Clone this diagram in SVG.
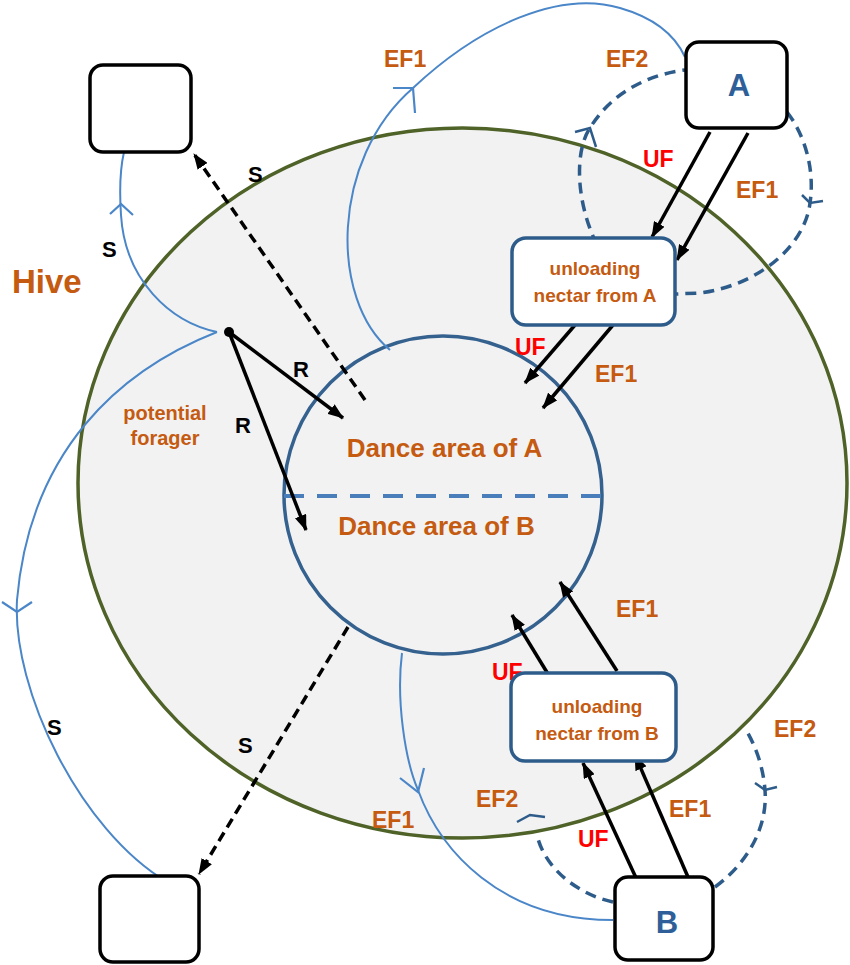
<svg xmlns="http://www.w3.org/2000/svg" width="850" height="965" viewBox="0 0 850 965">
<defs>
<style>
.t{font-family:"Liberation Sans",Arial,sans-serif;font-weight:bold}
.or{fill:#c55a11}
.rd{fill:#ff0000}
.bk{fill:#000}
.thin{fill:none;stroke:#4a86c8;stroke-width:2}
.dl{fill:none;stroke:#2e5c8a;stroke-width:3.5;stroke-dasharray:11 7}
.chev{fill:none;stroke:#4a86c8;stroke-width:2.2}
.chevd{fill:none;stroke:#2e5c8a;stroke-width:2.5}
.arr{fill:none;stroke:#000;stroke-width:3.5;marker-end:url(#ah)}
.darr{fill:none;stroke:#000;stroke-width:3.5;stroke-dasharray:10 6;marker-end:url(#ah)}
.bx{fill:#fff;stroke:#000;stroke-width:3.5}
.ub{fill:#fff;stroke:#2e5c8a;stroke-width:3.5}
.ef{font-size:23px}
.sr{font-size:22px}
</style>
<marker id="ah" markerUnits="userSpaceOnUse" markerWidth="16" markerHeight="12" viewBox="0 0 16 12" refX="15" refY="6" orient="auto">
<path d="M0,0 L16,6 L0,12 Z" fill="#000"/>
</marker>
</defs>

<g id="hive">
<ellipse cx="462.5" cy="483" rx="384.5" ry="355" fill="#f2f2f2" stroke="#4f6228" stroke-width="3.5"/>
<text class="t or" x="12" y="293" font-size="33">Hive</text>
</g>

<g id="dance-area">
<circle cx="443" cy="495" r="159" fill="#f2f2f2" stroke="#35618f" stroke-width="3.5"/>
<line x1="284" y1="496" x2="602" y2="496" stroke="#4a7ebb" stroke-width="4" stroke-dasharray="20 13"/>
<text class="t or" x="444.5" y="457" font-size="26" text-anchor="middle">Dance area of A</text>
<text class="t or" x="436.5" y="535" font-size="26" text-anchor="middle">Dance area of B</text>
</g>

<g id="potential-forager">
<circle cx="229" cy="332" r="5" fill="#000"/>
<text class="t or" font-size="20" text-anchor="middle"><tspan x="165" y="420">potential</tspan><tspan x="165" y="445">forager</tspan></text>
</g>

<g id="labels">
<text class="t bk sr" x="248" y="182">S</text>
<text class="t bk sr" x="102" y="257">S</text>
<text class="t bk sr" x="47" y="735">S</text>
<text class="t bk sr" x="238" y="753">S</text>
<text class="t bk sr" x="293" y="377">R</text>
<text class="t bk sr" x="235" y="433">R</text>
<text class="t or ef" x="384" y="67">EF1</text>
<text class="t or ef" x="606" y="67">EF2</text>
<text class="t rd ef" x="643" y="167">UF</text>
<text class="t or ef" x="736" y="198">EF1</text>
<text class="t rd ef" x="515" y="355">UF</text>
<text class="t or ef" x="595" y="382">EF1</text>
<text class="t or ef" x="616" y="617">EF1</text>
<text class="t rd ef" x="492" y="680">UF</text>
<text class="t or ef" x="774" y="737">EF2</text>
<text class="t or ef" x="476" y="807">EF2</text>
<text class="t or ef" x="669" y="817">EF1</text>
<text class="t or ef" x="372" y="828">EF1</text>
<text class="t rd ef" x="578" y="847">UF</text>
</g>

<g id="connectors">
<path class="thin" d="M217,332 C170,322 125,280 121,215 C119,185 121,165 124,152"/>
<polyline class="chev" points="110,214 121,204 133,215"/>
<path class="thin" d="M217,332 C120,370 30,450 17,600 C12,690 80,830 167,882"/>
<polyline class="chev" points="2,602 17,612 32,602"/>
<path class="thin" d="M390,350 C330,300 330,160 413,88 C480,25 560,-10 620,8 C655,18 675,35 685,57"/>
<polyline class="chev" points="393,88 413,88 415,113"/>
<path class="thin" d="M402,653 C396,700 405,760 418,790 C440,850 500,920 613,920"/>
<polyline class="chev" points="400,778 418,792 424,768"/>

<path class="dl" d="M597,245 C575,200 575,150 590,128 C610,95 645,75 685,70"/>
<polyline class="chevd" points="575,132 590,128 596,147"/>
<path class="dl" d="M787,112 C805,135 815,170 810,203 C805,245 760,285 700,293 L676,294"/>
<polyline class="chevd" points="802,195 810,203 823,201"/>
<path class="dl" d="M613,902 C580,895 545,870 537,835"/>
<polyline class="chevd" points="517,822 530,815 545,817"/>
<path class="dl" d="M715,887 C745,865 768,830 765,790 C763,765 755,745 745,728"/>
<polyline class="chevd" points="755,783 765,790 777,787"/>

<line class="arr" x1="229" y1="332" x2="343" y2="418"/>
<line class="arr" x1="229" y1="332" x2="306" y2="530"/>
<line class="darr" x1="365" y1="400" x2="194" y2="154"/>
<line class="darr" x1="348" y1="627" x2="199" y2="874"/>

<line class="arr" x1="710" y1="132" x2="652" y2="237"/>
<line class="arr" x1="748" y1="133" x2="677" y2="260"/>
<line class="arr" x1="575" y1="325" x2="525" y2="383"/>
<line class="arr" x1="613" y1="325" x2="543" y2="408"/>

<line class="arr" x1="637" y1="880" x2="583" y2="763"/>
<line class="arr" x1="688" y1="877" x2="635" y2="755"/>
<line class="arr" x1="548" y1="674" x2="512" y2="615"/>
<line class="arr" x1="617" y1="671" x2="560" y2="582"/>
</g>

<g id="node-A">
<rect class="bx" x="686" y="42" width="101" height="86" rx="13"/>
<text class="t" x="739" y="96" font-size="31" fill="#2e5f99" text-anchor="middle">A</text>
</g>
<g id="node-B">
<rect class="bx" x="615" y="877" width="98" height="83" rx="13"/>
<text class="t" x="667" y="933" font-size="31" fill="#2e5f99" text-anchor="middle">B</text>
</g>
<g id="node-empty-top">
<rect class="bx" x="90" y="65" width="101" height="87" rx="13"/>
</g>
<g id="node-empty-bottom">
<rect class="bx" x="100" y="876" width="99" height="86" rx="13"/>
</g>
<g id="node-unload-A">
<rect class="ub" x="512" y="238" width="163" height="87" rx="14"/>
<text class="t or" font-size="19" text-anchor="middle"><tspan x="595" y="275">unloading</tspan><tspan x="595" y="302">nectar from A</tspan></text>
</g>
<g id="node-unload-B">
<rect class="ub" x="511" y="673" width="165" height="88" rx="14"/>
<text class="t or" font-size="19" text-anchor="middle"><tspan x="597" y="713">unloading</tspan><tspan x="597" y="740">nectar from B</tspan></text>
</g>
</svg>
